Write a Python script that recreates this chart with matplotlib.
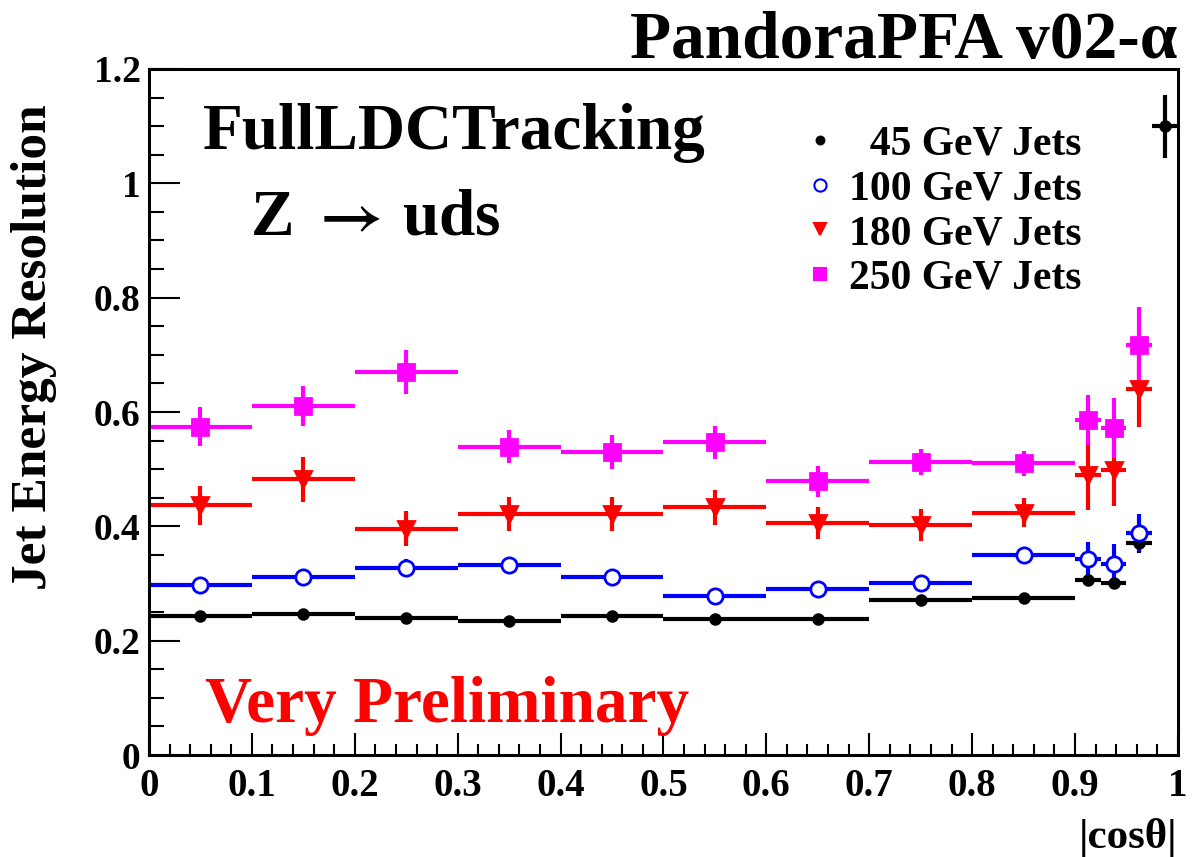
import numpy as np
import matplotlib
matplotlib.use("Agg")
import matplotlib.pyplot as plt
from matplotlib.lines import Line2D
from matplotlib.ticker import MultipleLocator, FormatStrFormatter

plt.rcParams['font.family'] = ['Liberation Serif', 'DejaVu Serif']
plt.rcParams['font.weight'] = 'bold'
plt.rcParams['mathtext.fontset'] = 'stix'

# bin edges in |cos(theta)|
edges = [0.0, 0.1, 0.2, 0.3, 0.4, 0.5, 0.6, 0.7, 0.8, 0.9, 0.925, 0.95, 0.975, 1.0]

# jet energy resolution per bin
res_45 = [0.243, 0.246, 0.240, 0.234, 0.243, 0.238, 0.238, 0.271, 0.275, 0.307, 0.301, 0.370, 1.10]
err_45 = [0.004, 0.004, 0.004, 0.004, 0.004, 0.004, 0.004, 0.005, 0.005, 0.010, 0.008, 0.016, 0.055]

res_100 = [0.298, 0.311, 0.328, 0.332, 0.311, 0.279, 0.291, 0.301, 0.349, 0.342, 0.335, 0.389]
err_100 = [0.010, 0.012, 0.014, 0.014, 0.011, 0.010, 0.011, 0.011, 0.012, 0.030, 0.034, 0.033]

res_180 = [0.437, 0.482, 0.396, 0.421, 0.421, 0.433, 0.405, 0.402, 0.424, 0.489, 0.498, 0.640]
err_180 = [0.034, 0.040, 0.030, 0.030, 0.030, 0.030, 0.028, 0.028, 0.026, 0.060, 0.063, 0.067]

res_250 = [0.574, 0.611, 0.670, 0.539, 0.530, 0.547, 0.479, 0.513, 0.510, 0.586, 0.572, 0.717]
err_250 = [0.034, 0.035, 0.039, 0.029, 0.030, 0.029, 0.027, 0.023, 0.022, 0.044, 0.052, 0.066]

labels = ['  45 GeV Jets', '100 GeV Jets', '180 GeV Jets', '250 GeV Jets']

edges = np.array(edges)
centers = 0.5 * (edges[:-1] + edges[1:])
half_w = 0.5 * (edges[1:] - edges[:-1])

fig = plt.figure(figsize=(11.97, 8.57), dpi=100)
ax = fig.add_axes([0.1245, 0.119, 0.8595, 0.8005])

series = [
    (res_45, err_45, 'black', 'o', 7, 'black'),
    (res_100, err_100, 'blue', 'o', 11, 'white'),
    (res_180, err_180, 'red', 'v', 11, 'red'),
    (res_250, err_250, 'magenta', 's', 11, 'magenta'),
]

handles = []
for vals, errs, col, mk, ms, mfc in series:
    n = len(vals)
    ax.errorbar(centers[:n], vals, yerr=errs, xerr=half_w[:n], fmt=mk, color=col,
                ms=ms, mfc=mfc, mec=col, mew=2, elinewidth=3, capsize=0)
    handles.append(Line2D([], [], ls='none', marker=mk, color=col, ms=ms * 0.8,
                          mfc=mfc, mec=col, mew=1.5))

ax.set_xlim(0, 1)
ax.set_ylim(0, 1.2)
ax.xaxis.set_major_locator(MultipleLocator(0.1))
ax.xaxis.set_minor_locator(MultipleLocator(0.02))
ax.yaxis.set_major_locator(MultipleLocator(0.2))
ax.yaxis.set_minor_locator(MultipleLocator(0.05))
ax.xaxis.set_major_formatter(FormatStrFormatter('%g'))
ax.yaxis.set_major_formatter(FormatStrFormatter('%g'))
ax.tick_params(axis='both', which='both', direction='in', width=1.5, labelsize=27)
ax.tick_params(axis='x', which='major', length=16, pad=9, labelsize=28)
ax.tick_params(axis='x', which='minor', length=8)
ax.tick_params(axis='y', which='major', length=22, pad=6)
ax.tick_params(axis='y', which='minor', length=11)
for s in ax.spines.values():
    s.set_linewidth(2.2)

ax.set_ylabel('Jet Energy Resolution', fontsize=37, fontweight='bold')
ax.yaxis.set_label_coords(-0.089, 0.595)
ax.set_xlabel('|cos\u03b8|', fontsize=31, fontweight='bold', loc='right', labelpad=10)

ax.text(0.052, 1.088, 'FullLDCTracking', fontsize=47, fontweight='bold', va='center')
ax.text(0.098, 0.939, 'Z $\\rightarrow\\,$uds', fontsize=47, fontweight='bold', va='center')
ax.text(0.054, 0.086, 'Very Preliminary', fontsize=47, fontweight='bold', va='center',
        color='red')
fig.text(0.984, 0.952, 'PandoraPFA v02-\u03b1', fontsize=48.5, fontweight='bold',
         ha='right', va='center')

ax.legend(handles, labels, loc='upper left', bbox_to_anchor=(0.64, 0.918),
          frameon=False, fontsize=30, handlelength=0.6, handletextpad=0.4,
          labelspacing=0.16, borderpad=0, borderaxespad=0)

fig.savefig('out.png', dpi=100)
